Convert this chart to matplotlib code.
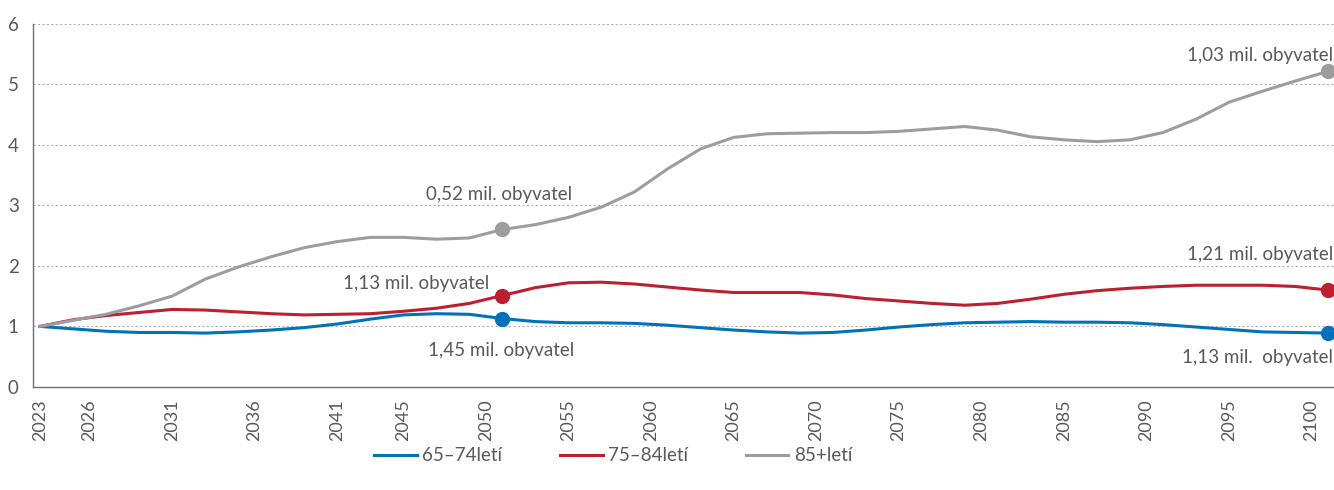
import numpy as np
import matplotlib.pyplot as plt

plt.rcParams['font.family'] = ['Lato', 'DejaVu Sans']

# index values (2023 = 1)
years = list(range(2023, 2102, 2))
age_65_74 = [1.00, 0.96, 0.92, 0.90, 0.90, 0.89, 0.91, 0.94, 0.98, 1.04,
             1.12, 1.19, 1.21, 1.20, 1.13, 1.08, 1.06, 1.06, 1.05, 1.02,
             0.98, 0.94, 0.91, 0.89, 0.90, 0.94, 0.99, 1.03, 1.06, 1.07,
             1.08, 1.07, 1.07, 1.06, 1.03, 0.99, 0.95, 0.91, 0.90, 0.89]
age_75_84 = [1.00, 1.11, 1.18, 1.23, 1.28, 1.27, 1.24, 1.21, 1.19, 1.20,
             1.21, 1.25, 1.30, 1.38, 1.51, 1.64, 1.72, 1.73, 1.70, 1.65,
             1.60, 1.56, 1.56, 1.56, 1.52, 1.46, 1.42, 1.38, 1.35, 1.38,
             1.45, 1.53, 1.59, 1.63, 1.66, 1.68, 1.68, 1.68, 1.66, 1.60]
age_85 = [1.00, 1.10, 1.20, 1.34, 1.50, 1.78, 1.98, 2.15, 2.30, 2.40,
          2.47, 2.47, 2.44, 2.46, 2.60, 2.68, 2.80, 2.97, 3.22, 3.60,
          3.93, 4.12, 4.18, 4.19, 4.20, 4.20, 4.22, 4.26, 4.30, 4.24,
          4.13, 4.08, 4.05, 4.08, 4.20, 4.42, 4.70, 4.88, 5.05, 5.21]

tick_years = [2023, 2026, 2031, 2036, 2041, 2045, 2050, 2055, 2060, 2065,
              2070, 2075, 2080, 2085, 2090, 2095, 2100]
mark_years = [2051, 2101]

series = [
    ('65–74letí', age_65_74, '#0072bc'),
    ('75–84letí', age_75_84, '#be1e2d'),
    ('85+letí', age_85, '#9d9d9f'),
]

fs = 13.5
grey = '#58595b'

fig = plt.figure(figsize=(13.34, 4.9), dpi=100)
ax = fig.add_axes([0.0244, 0.2102, 0.9756, 0.7418])

for name, vals, col in series:
    ax.plot(years, vals, color=col, lw=2.2, label=name, zorder=3,
            solid_joinstyle='round')
    mv = [vals[years.index(y)] for y in mark_years]
    ax.plot(mark_years, mv, 'o', color=col, ms=10, zorder=4)

# labels at the markers
txt = dict(color=grey, fontsize=fs)
ax.text(2050.8, 3.18, '0,52 mil. obyvatel', ha='center', va='center', **txt)
ax.text(2045.8, 1.71, '1,13 mil. obyvatel', ha='center', va='center', **txt)
ax.text(2050.9, 0.61, '1,45 mil. obyvatel', ha='center', va='center', **txt)
ax.text(2101.3, 5.48, '1,03 mil. obyvatel', ha='right', va='center', **txt)
ax.text(2101.3, 2.19, '1,21 mil. obyvatel', ha='right', va='center', **txt)
ax.text(2101.3, 0.48, '1,13 mil.  obyvatel', ha='right', va='center', **txt)

ax.set_xlim(2022.55, 2101.36)
ax.set_ylim(0, 6)
ax.set_yticks(range(0, 7))
ax.set_xticks(tick_years)
ax.tick_params(axis='x', length=0, pad=9, labelrotation=90,
               labelsize=13, labelcolor=grey)
ax.tick_params(axis='y', length=0, pad=10, labelsize=fs, labelcolor=grey)
ax.yaxis.grid(True, color='#b0b0b0', ls=(0, (2, 2)), lw=0.8)
ax.set_axisbelow(True)
for s in ['top', 'right']:
    ax.spines[s].set_visible(False)
for s in ['left', 'bottom']:
    ax.spines[s].set_color('#6d6e71')
    ax.spines[s].set_linewidth(1)

fig.legend(loc='lower left', bbox_to_anchor=(0.268, 0.018), ncol=3,
           frameon=False, fontsize=fs, handlelength=2.25,
           columnspacing=3.1, handletextpad=0.3, labelcolor=grey)

plt.savefig('out.png', dpi=100)
